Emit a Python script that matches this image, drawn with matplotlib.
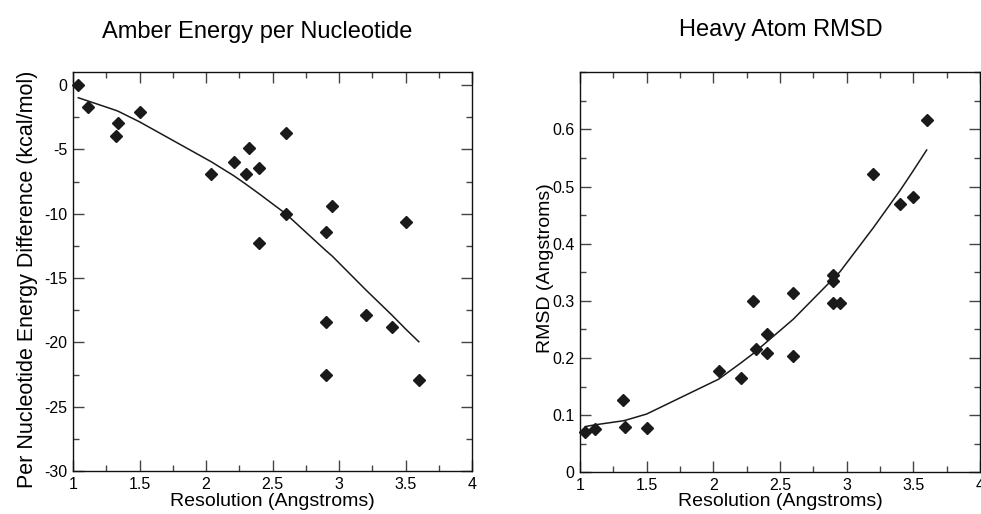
import matplotlib
matplotlib.use("Agg")
import matplotlib.pyplot as plt
from matplotlib.ticker import MultipleLocator, FuncFormatter

plt.rcParams['font.family'] = ['Liberation Sans', 'DejaVu Sans']

# ---- data ----
resolution = [1.04, 1.11, 1.32, 1.34, 1.50, 2.04, 2.21, 2.30, 2.32, 2.40, 2.40,
              2.60, 2.60, 2.90, 2.95, 3.50, 2.90, 3.20, 3.40, 2.90, 3.60]
energy = [0.0, -1.68, -3.96, -2.93, -2.05, -6.92, -5.96, -6.87, -4.92, -6.42, -12.25,
          -3.70, -10.03, -11.45, -9.43, -10.65, -18.45, -17.85, -18.83, -22.56, -22.95]

rmsd_res = [3.60, 3.20, 3.40, 3.50, 2.90, 2.90, 2.90, 2.95, 2.30, 2.60, 2.40,
            2.32, 2.40, 2.60, 2.04, 2.21, 1.32, 1.34, 1.50, 1.04, 1.11]
rmsd = [0.616, 0.5215, 0.470, 0.482, 0.345, 0.334, 0.2965, 0.2965, 0.300, 0.314, 0.2424,
        0.215, 0.209, 0.2035, 0.177, 0.1645, 0.126, 0.080, 0.078, 0.071, 0.0756]

fit_x = [1.04, 1.11, 1.32, 1.34, 1.50, 2.04, 2.21, 2.30, 2.32, 2.40, 2.60, 2.90,
         2.95, 3.20, 3.40, 3.50, 3.60]
energy_fit = [-0.98, -1.22, -1.95, -2.03, -2.85, -5.96, -7.05, -7.7, -7.85, -8.45,
              -10.0, -12.85, -13.3, -15.9, -17.9, -18.95, -19.95]
rmsd_fit = [0.080, 0.083, 0.090, 0.091, 0.102, 0.163, 0.192, 0.208, 0.212, 0.228,
            0.268, 0.339, 0.351, 0.428, 0.493, 0.528, 0.564]

fig = plt.figure(figsize=(9.81, 5.14), dpi=100)
W, H = 981.0, 514.0

def px_axes(l, r, t, b):
    return [l / W, 1 - b / H, (r - l) / W, (b - t) / H]

ax1 = fig.add_axes(px_axes(73, 472, 72.3, 471))
ax2 = fig.add_axes(px_axes(580, 980, 72.3, 472.3))

def style(ax):
    for s in ax.spines.values():
        s.set_linewidth(1.0)
        s.set_color('#111111')
    ax.xaxis.set_major_locator(MultipleLocator(0.5))
    ax.xaxis.set_minor_locator(MultipleLocator(0.25))
    ax.tick_params(which='both', direction='in', top=True, right=True,
                   labelsize=11.5, color='#444444', width=1.0)
    ax.tick_params(which='major', length=8, pad=4)
    ax.tick_params(which='minor', length=4)
    ax.xaxis.set_major_formatter(FuncFormatter(lambda v, p: f"{v:g}"))
    ax.yaxis.set_major_formatter(FuncFormatter(lambda v, p: f"{v:g}"))

# left panel
ax1.plot(resolution, energy, linestyle='none', marker='D', markersize=6.2,
         color='#1a1a1a', clip_on=False, zorder=3)
ax1.plot(fit_x, energy_fit, color='#1a1a1a', linewidth=1.1, zorder=2)
ax1.set_xlim(1, 4)
ax1.set_ylim(-30, 1)
ax1.yaxis.set_major_locator(MultipleLocator(5))
ax1.yaxis.set_minor_locator(MultipleLocator(2.5))
style(ax1)
ax1.set_xlabel('Resolution (Angstroms)', fontsize=14)
ax1.set_ylabel('Per Nucleotide Energy Difference (kcal/mol)', fontsize=15.5)
ax1.xaxis.set_label_coords(0.5, -0.055)
ax1.yaxis.set_label_coords(-0.088, 0.48)

# right panel
ax2.plot(rmsd_res, rmsd, linestyle='none', marker='D', markersize=6.2,
         color='#1a1a1a', clip_on=False, zorder=3)
ax2.plot(fit_x, rmsd_fit, color='#1a1a1a', linewidth=1.1, zorder=2)
ax2.set_xlim(1, 4)
ax2.set_ylim(0, 0.7)
ax2.yaxis.set_minor_locator(MultipleLocator(0.05))
style(ax2)
ax2.set_yticks([0, 0.1, 0.2, 0.3, 0.4, 0.5, 0.6])
ax2.set_xlabel('Resolution (Angstroms)', fontsize=14)
ax2.set_ylabel('RMSD (Angstroms)', fontsize=14)
ax2.xaxis.set_label_coords(0.5, -0.052)
ax2.yaxis.set_label_coords(-0.065, 0.51)

fig.text(257 / W, 1 - 38 / H, 'Amber Energy per Nucleotide', fontsize=17,
         ha='center', va='baseline')
fig.text(781 / W, 1 - 36 / H, 'Heavy Atom RMSD', fontsize=17,
         ha='center', va='baseline')

fig.savefig('out.png', dpi=100)
